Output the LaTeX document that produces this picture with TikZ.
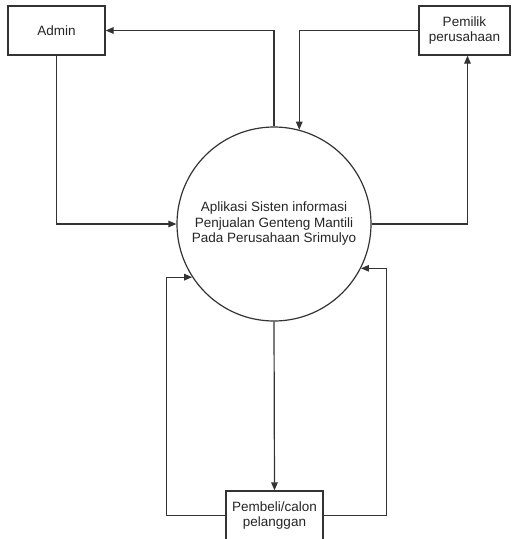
\documentclass[tikz,border=0pt]{standalone}
\usepackage{fontspec}
\setmainfont{Liberation Sans}
\usetikzlibrary{arrows.meta}
\begin{document}
\begin{tikzpicture}[x=1pt,y=-1pt,
  line/.style={draw=black!80,line width=1.2pt},
  arr/.style={line,-{Triangle[length=8pt,width=6.5pt]}},
  entity/.style={draw=black!80,line width=1.2pt,fill=white,inner sep=0pt,
     minimum width=97pt,minimum height=49pt,align=center,
     font=\fontsize{13.5}{15.5}\selectfont,text=black!85},
  proc/.style={draw=black!80,line width=1.2pt,circle,inner sep=0pt,
     minimum size=194pt,align=center,
     font=\fontsize{13.5}{15.5}\selectfont,text=black!85}]
\useasboundingbox (0,0) rectangle (512,539);
\fill[white] (0,0) rectangle (512,539);
\node[entity] (admin) at (56.5,30.5) {Admin};
\node[entity,minimum width=91pt] (pemilik) at (464.5,30.5) {Pemilik\\perusahaan};
\node[proc] (c) at (274,224) {Aplikasi Sisten informasi\\Penjualan Genteng Mantili\\Pada Perusahaan Srimulyo};
\node[entity] (pembeli) at (274.5,515.5) {Pembeli/calon\\pelanggan};
\draw[arr] (c.north) |- (admin.east);
\draw[arr] (pemilik.west) -| (c.75.7);
\draw[arr] (admin.south) |- (c.west);
\draw[arr] (c.east) -| ([xshift=3pt]pemilik.south);
\draw[arr] (c.south) -- (pembeli.north);
\draw[arr] (pembeli.west) -- ++(-59,0) |- (c.213);
\draw[arr] (pembeli.east) -- ++(63,0) |- (c.-27);
\end{tikzpicture}
\end{document}
